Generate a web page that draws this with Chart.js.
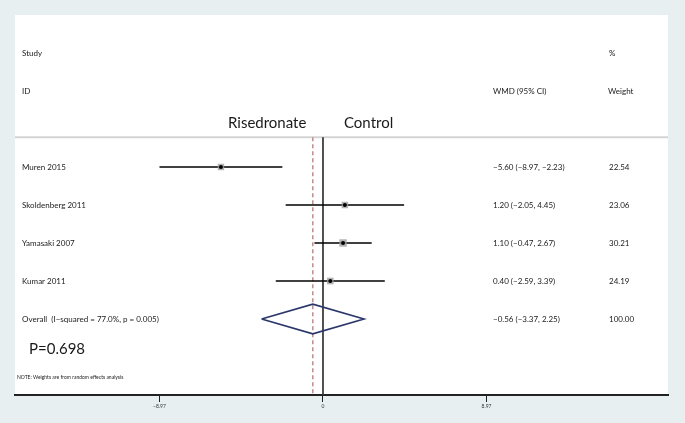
<!DOCTYPE html>
<html>
<head>
<meta charset="utf-8">
<script src="https://cdn.jsdelivr.net/npm/chart.js@4/dist/chart.umd.min.js"></script>
<style>
  html, body { margin: 0; padding: 0; background: #e8eff1; }
  canvas { display: block; }
</style>
</head>
<body>
<canvas id="forest" width="685" height="423"></canvas>
<script>
// study data
const studies = ["Muren 2015", "Skoldenberg 2011", "Yamasaki 2007", "Kumar 2011"];
const wmd = [-5.60, 1.20, 1.10, 0.40];
const ciLow = [-8.97, -2.05, -0.47, -2.59];
const ciHigh = [-2.23, 4.45, 2.67, 3.39];
const weights = [22.54, 23.06, 30.21, 24.19];

// pooled estimate
const overallLabel = "Overall  (I\u2212squared = 77.0%, p = 0.005)";
const overallEst = -0.56;
const overallLow = -3.37;
const overallHigh = 2.25;
const overallWeight = 100.00;

// x axis ticks
const tickValues = [-8.97, 0, 8.97];
const tickLabels = ["\u22128.97", "0", "8.97"];

const FONT = "Lato, 'Open Sans', sans-serif";
const overallRow = studies.length;

function fmt(v) {
  return (v < 0 ? "\u2212" : "") + Math.abs(v).toFixed(2);
}

const ctxEl = document.getElementById("forest");

// background + white panel + header separator
const panelPlugin = {
  id: "panel",
  beforeDraw(chart) {
    const { ctx, chartArea, width, height } = chart;
    const y = chart.scales.y;
    ctx.save();
    ctx.fillStyle = "#e8eff1";
    ctx.fillRect(0, 0, width, height);
    ctx.fillStyle = "#ffffff";
    ctx.fillRect(chartArea.left, chartArea.top, chartArea.right - chartArea.left, chartArea.bottom - chartArea.top);
    // separator under the header
    ctx.strokeStyle = "#d4d4d4";
    ctx.lineWidth = 2;
    const sy = y.getPixelForValue(-0.78);
    ctx.beginPath();
    ctx.moveTo(chartArea.left, sy);
    ctx.lineTo(chartArea.right, sy);
    ctx.stroke();
    ctx.restore();
  }
};

// all the text columns
const textPlugin = {
  id: "texts",
  afterDraw(chart) {
    const { ctx } = chart;
    const y = chart.scales.y;
    ctx.save();
    ctx.fillStyle = "#1a1a1a";
    ctx.textBaseline = "middle";
    ctx.textAlign = "left";

    ctx.font = "8px " + FONT;
    ctx.fillText("Study", 22, y.getPixelForValue(-3));
    ctx.fillText("ID", 22, y.getPixelForValue(-2));
    ctx.fillText("%", 609, y.getPixelForValue(-3));
    ctx.fillText("WMD (95% CI)", 493, y.getPixelForValue(-2));
    ctx.fillText("Weight", 608, y.getPixelForValue(-2));

    studies.forEach((s, i) => {
      const py = y.getPixelForValue(i);
      ctx.fillText(s, 22, py);
      ctx.fillText(`${fmt(wmd[i])} (${fmt(ciLow[i])}, ${fmt(ciHigh[i])})`, 493, py);
      ctx.fillText(weights[i].toFixed(2), 609, py);
    });

    const oy = y.getPixelForValue(overallRow);
    ctx.fillText(overallLabel, 22, oy);
    ctx.fillText(`${fmt(overallEst)} (${fmt(overallLow)}, ${fmt(overallHigh)})`, 493, oy);
    ctx.fillText(overallWeight.toFixed(2), 609, oy);

    ctx.font = "15px " + FONT;
    ctx.fillText("Risedronate", 228, y.getPixelForValue(-1.16));
    ctx.fillText("Control", 344, y.getPixelForValue(-1.16));

    ctx.font = "15px " + FONT;
    ctx.fillText("P=0.698", 29, y.getPixelForValue(4.79));

    ctx.font = "5px " + FONT;
    ctx.fillText("NOTE: Weights are from random effects analysis", 17, y.getPixelForValue(5.53));
    ctx.restore();
  }
};

const datasets = [];

// black point estimates
datasets.push({
  data: wmd.map((v, i) => ({ x: v, y: i })),
  pointStyle: "circle",
  pointRadius: 2,
  backgroundColor: "#000",
  borderColor: "#000",
  borderWidth: 0
});

// grey weight boxes
datasets.push({
  data: wmd.map((v, i) => ({ x: v, y: i })),
  pointStyle: "rect",
  pointRadius: weights.map(w => 4.8 * Math.sqrt(w / 25)),
  backgroundColor: "rgba(160,160,160,0.8)",
  borderWidth: 0
});

// confidence intervals
studies.forEach((s, i) => {
  datasets.push({
    data: [{ x: ciLow[i], y: i }, { x: ciHigh[i], y: i }],
    showLine: true,
    pointRadius: 0,
    borderColor: "#000",
    borderWidth: 1.6
  });
});

// pooled diamond
datasets.push({
  data: [
    { x: overallLow, y: overallRow },
    { x: overallEst, y: overallRow - 0.39 },
    { x: overallHigh, y: overallRow },
    { x: overallEst, y: overallRow + 0.39 },
    { x: overallLow, y: overallRow }
  ],
  showLine: true,
  pointRadius: 0,
  borderColor: "#2b366b",
  borderWidth: 1.6,
  tension: 0
});

// no-effect line
datasets.push({
  data: [{ x: 0, y: -0.78 }, { x: 0, y: 6 }],
  showLine: true,
  pointRadius: 0,
  borderColor: "#3a3a3a",
  borderWidth: 1
});

// pooled estimate dashed line
datasets.push({
  data: [{ x: overallEst, y: -0.78 }, { x: overallEst, y: 6 }],
  showLine: true,
  pointRadius: 0,
  borderColor: "#c48a8a",
  borderWidth: 1.5,
  borderDash: [4, 3]
});

new Chart(ctxEl, {
  type: "scatter",
  data: { datasets },
  options: {
    responsive: false,
    animation: false,
    devicePixelRatio: 1,
    layout: { padding: { left: 15, right: 17, top: 15, bottom: 0 } },
    plugins: {
      legend: { display: false },
      tooltip: { enabled: false }
    },
    scales: {
      x: {
        type: "linear",
        min: -16.898,
        max: 18.928,
        afterBuildTicks: (scale) => {
          scale.ticks = tickValues.map(v => ({ value: v }));
        },
        afterFit: (scale) => { scale.height = 28; },
        ticks: {
          autoSkip: false,
          maxRotation: 0,
          padding: 1,
          color: "#333",
          font: { size: 5, family: FONT },
          callback: (v, i) => tickLabels[i]
        },
        grid: {
          drawOnChartArea: false,
          drawTicks: true,
          tickLength: 7,
          color: "#222",
          lineWidth: 1
        },
        border: { display: true, color: "#222", width: 2 }
      },
      y: {
        type: "linear",
        display: false,
        reverse: true,
        min: -4,
        max: 6
      }
    }
  },
  plugins: [panelPlugin, textPlugin]
});
</script>
</body>
</html>
